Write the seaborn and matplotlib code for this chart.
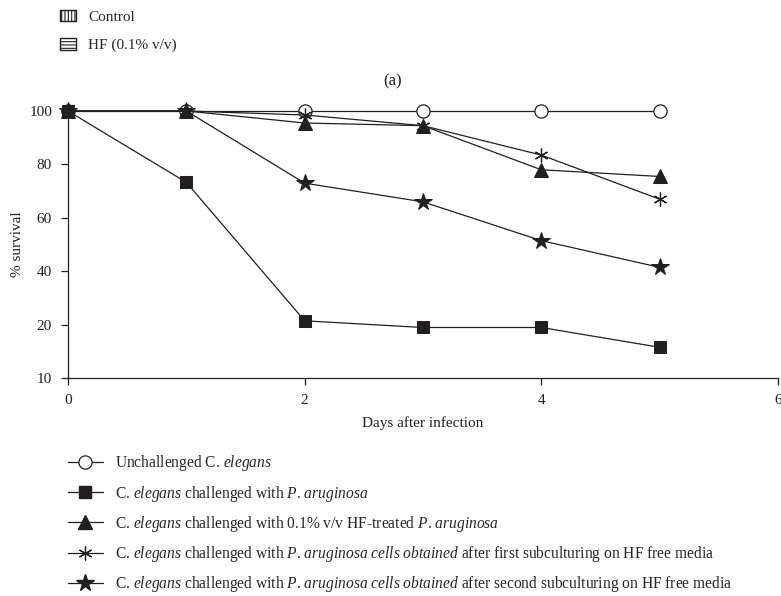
import numpy as np
import pandas as pd
import matplotlib
matplotlib.use("Agg")
import matplotlib.pyplot as plt
import seaborn as sns
from matplotlib.lines import Line2D
from matplotlib.patches import Patch

# data
days = [0, 1, 2, 3, 4, 5]
unchallenged = [100, 100, 100, 100, 100, 100]
pa_challenged = [100, 73.3, 21.5, 19.5, 19.5, 15.8]
hf_treated = [100, 100, 95.5, 94.5, 78, 75.5]
first_sub = [100, 100, 98.5, 94.5, 83.5, 67]
second_sub = [100, 100, 73, 66, 51.5, 41.5]

y_ticks = [10, 20, 40, 60, 80, 100]
x_ticks = [0, 2, 4, 6]

labels = [
    r"Unchallenged C. $\mathit{elegans}$",
    r"C. $\mathit{elegans}$ challenged with $\mathit{P}$. $\mathit{aruginosa}$",
    r"C. $\mathit{elegans}$ challenged with 0.1% v/v HF-treated $\mathit{P}$. $\mathit{aruginosa}$",
    r"C. $\mathit{elegans}$ challenged with $\mathit{P}$. $\mathit{aruginosa}$ $\mathit{cells}$ $\mathit{obtained}$ after first subculturing on HF free media",
    r"C. $\mathit{elegans}$ challenged with $\mathit{P}$. $\mathit{aruginosa}$ $\mathit{cells}$ $\mathit{obtained}$ after second subculturing on HF free media",
]

sns.set_style("ticks")
plt.rcParams["font.family"] = ["Liberation Serif", "DejaVu Serif"]
plt.rcParams["mathtext.fontset"] = "custom"
plt.rcParams["mathtext.rm"] = "Liberation Serif"
plt.rcParams["mathtext.it"] = "Liberation Serif:italic"
plt.rcParams["hatch.linewidth"] = 0.8

ink = "#231f20"

fig = plt.figure(figsize=(7.81, 5.96), dpi=100)
ax = fig.add_axes([0.0871, 0.3653, 0.909, 0.4485])

series = [unchallenged, pa_challenged, hf_treated, first_sub, second_sub]
styles = [
    dict(marker="o", markersize=9.5, markerfacecolor="white", markeredgecolor=ink, markeredgewidth=0.9),
    dict(marker="s", markersize=8.5, markerfacecolor=ink, markeredgecolor=ink),
    dict(marker="^", markersize=10, markerfacecolor=ink, markeredgecolor=ink),
    dict(marker=(6, 2, 0), markersize=10, markerfacecolor=ink, markeredgecolor=ink, markeredgewidth=0.9),
    dict(marker="*", markersize=13, markerfacecolor=ink, markeredgecolor=ink),
]

for vals, st in zip(series, styles):
    df = pd.DataFrame({"day": days, "survival": vals})
    sns.lineplot(data=df, x="day", y="survival", ax=ax, color=ink, linewidth=0.9,
                 clip_on=False, **st)


# bottom part of the axis (10-20) is stretched to the same length as 20 units
def fwd(y):
    y = np.asarray(y, dtype=float)
    return np.where(y >= 20, y, 20 - (20 - y) * 2)


def inv(t):
    t = np.asarray(t, dtype=float)
    return np.where(t >= 20, t, 20 - (20 - t) / 2)


ax.set_yscale("function", functions=(fwd, inv))
ax.set_ylim(10, 100)
ax.set_xlim(0, 6)
ax.set_yticks(y_ticks)
ax.set_yticklabels([str(t) for t in y_ticks])
ax.set_xticks(x_ticks)
ax.set_xticklabels([str(t) for t in x_ticks])
ax.minorticks_off()
ax.tick_params(axis="both", length=5, width=0.9, colors=ink, labelsize=11, pad=6.5)
for s in ["top", "right"]:
    ax.spines[s].set_visible(False)
for s in ["left", "bottom"]:
    ax.spines[s].set_color(ink)
    ax.spines[s].set_linewidth(0.9)

ax.set_xlabel("Days after infection", fontsize=11, color=ink, va="top")
ax.xaxis.set_label_coords(0.5, -0.141)
ax.set_ylabel("% survival", fontsize=11, color=ink)
ax.yaxis.set_label_coords(-0.062, 0.5)
fig.text(393 / 781, 1 - 81 / 596, "(a)", fontsize=12, color=ink, ha="center", va="center")

# top legend with hatched boxes
top_handles = [
    Patch(facecolor="white", edgecolor=ink, hatch="|||||", label="Control"),
    Patch(facecolor="white", edgecolor=ink, hatch="-----", label="HF (0.1% v/v)"),
]
fig.legend(handles=top_handles, loc="upper left", bbox_to_anchor=(0.073, 0.989),
           frameon=False, fontsize=11, handlelength=1.05, handleheight=0.8,
           handletextpad=0.8, labelspacing=0.93, borderpad=0.2, borderaxespad=0)

# bottom legend
handles = [Line2D([0], [0], color=ink, linewidth=0.9, **st) for st in styles]
fig.legend(handles=handles, labels=labels, loc="upper left", bbox_to_anchor=(0.069, 0.263),
           frameon=False, fontsize=11.2, handlelength=2.25, handletextpad=0.75,
           labelspacing=0.66)

fig.savefig("out.png", dpi=100)
